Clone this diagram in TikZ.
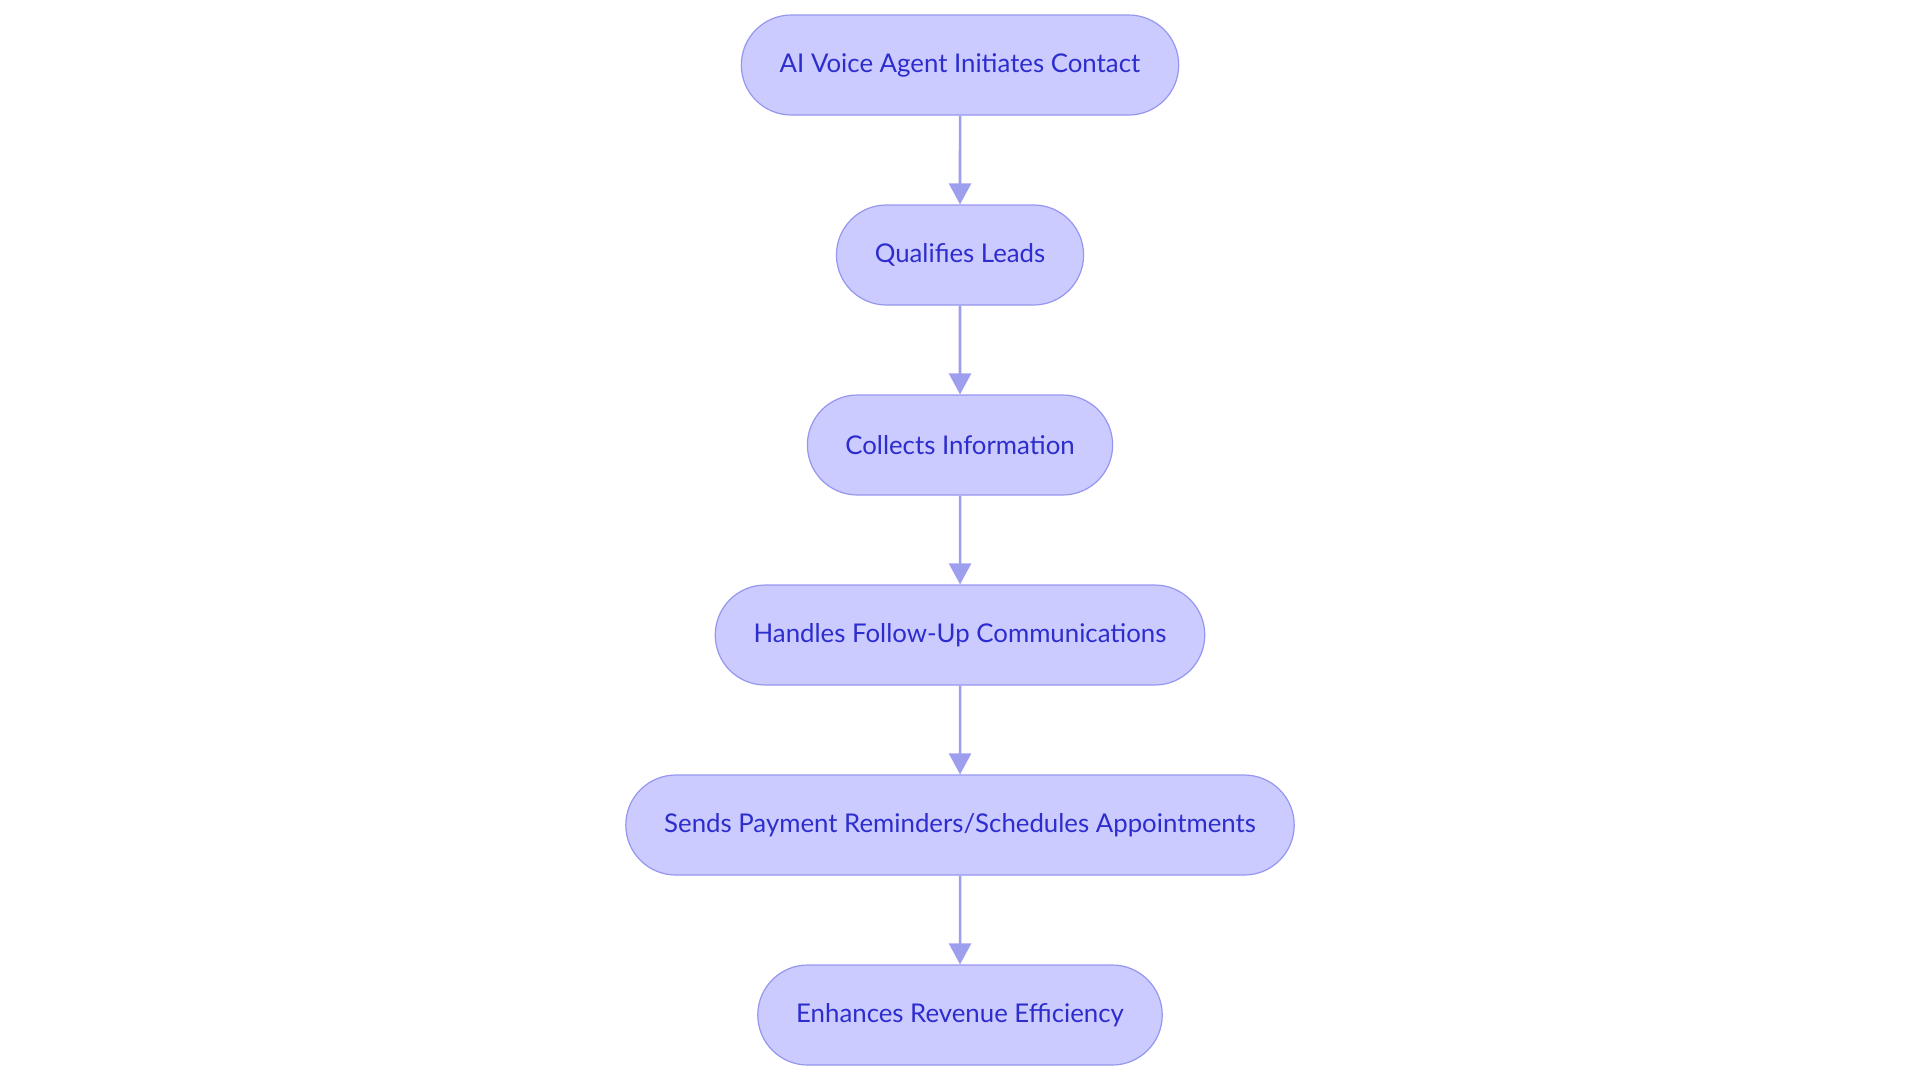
\documentclass[tikz,border=0pt]{standalone}
\usepackage{fontspec}
\setmainfont{Lato}
\usetikzlibrary{arrows.meta, positioning, shapes.misc}

\definecolor{boxfill}{RGB}{203,203,255}
\definecolor{boxline}{RGB}{150,150,240}
\definecolor{linkline}{RGB}{158,158,238}
\definecolor{boxtext}{RGB}{45,45,205}

\begin{document}
\begin{tikzpicture}[
  flow box/.style={draw=boxline, line width=0.6pt, fill=boxfill, rounded rectangle,
    minimum height=50pt, inner xsep=18.5pt, font=\fontsize{12.9}{15}\selectfont, text=boxtext},
  flow arrow/.style={-{Triangle[length=10.5pt, width=11pt]}, line width=1.3pt, draw=linkline}
]
  \useasboundingbox (0,0) rectangle (960pt,-541.5pt);

  % steps
  \node[flow box] (contact) at (480pt,-32.5pt) {AI Voice Agent Initiates Contact};
  \node[flow box, below=44.4pt of contact] (qualify) {Qualifies Leads};
  \node[flow box, below=44.4pt of qualify] (collect) {Collects Information};
  \node[flow box, below=44.4pt of collect] (followup) {Handles Follow-Up Communications};
  \node[flow box, below=44.4pt of followup] (remind) {Sends Payment Reminders/Schedules Appointments};
  \node[flow box, below=44.4pt of remind] (revenue) {Enhances Revenue Efficiency};

  % links
  \draw[flow arrow] (contact) -- (qualify);
  \draw[flow arrow] (qualify) -- (collect);
  \draw[flow arrow] (collect) -- (followup);
  \draw[flow arrow] (followup) -- (remind);
  \draw[flow arrow] (remind) -- (revenue);
\end{tikzpicture}
\end{document}
